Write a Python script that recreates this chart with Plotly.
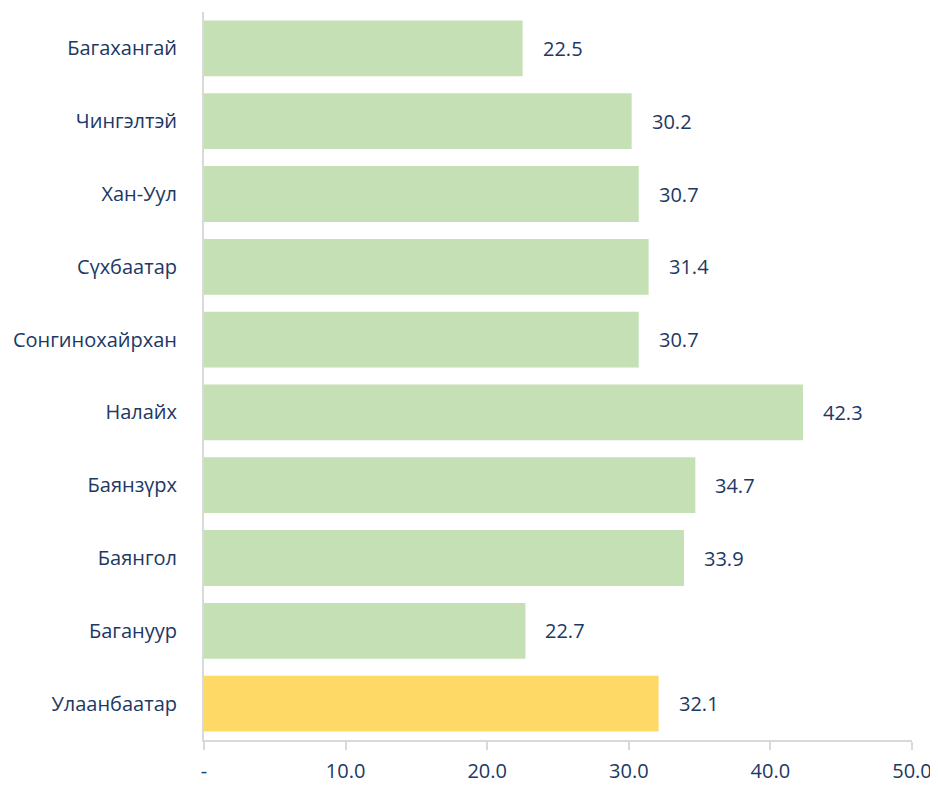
import plotly.graph_objects as go

districts = ["Багахангай", "Чингэлтэй", "Хан-Уул", "Сүхбаатар", "Сонгинохайрхан",
             "Налайх", "Баянзүрх", "Баянгол", "Багануур", "Улаанбаатар"]
values = [22.5, 30.2, 30.7, 31.4, 30.7, 42.3, 34.7, 33.9, 22.7, 32.1]
tick_vals = [0, 10, 20, 30, 40, 50]
tick_text = ["-", "10.0", "20.0", "30.0", "40.0", "50.0"]

GREEN = "#c5e0b4"
YELLOW = "#ffd966"
TXT = "#203864"
GRID = "#d9d9d9"
FONT = "Open Sans"
FS = 20

colors = [YELLOW if d == "Улаанбаатар" else GREEN for d in districts]

fig = go.Figure(go.Bar(
    x=values, y=districts, orientation="h",
    marker=dict(color=colors, line=dict(width=0)),
    hoverinfo="x+y",
))

for d, v in zip(districts, values):
    fig.add_annotation(x=v, y=d, text=f"{v:.1f}", showarrow=False,
                       xanchor="left", xshift=18,
                       font=dict(family=FONT, size=FS, color=TXT))

fig.update_layout(
    width=938, height=785,
    margin=dict(l=196, r=34, t=4, b=53),
    paper_bgcolor="white", plot_bgcolor="white",
    bargap=0.233, showlegend=False,
    font=dict(family=FONT, size=FS, color=TXT),
)
fig.update_xaxes(range=[0, 50], tickvals=tick_vals, ticktext=tick_text,
                 showgrid=False, zeroline=False, showline=True, linecolor=GRID,
                 linewidth=2, ticks="outside", ticklen=8, tickcolor=GRID, tickwidth=2,
                 ticklabelstandoff=4,
                 tickfont=dict(family=FONT, size=FS, color=TXT))
fig.update_yaxes(range=[9.5, -0.5], showgrid=False, zeroline=False,
                 showline=True, linecolor=GRID, linewidth=2, ticks="",
                 ticklabelstandoff=21,
                 tickfont=dict(family=FONT, size=FS, color=TXT))

fig.write_html("out.html")
